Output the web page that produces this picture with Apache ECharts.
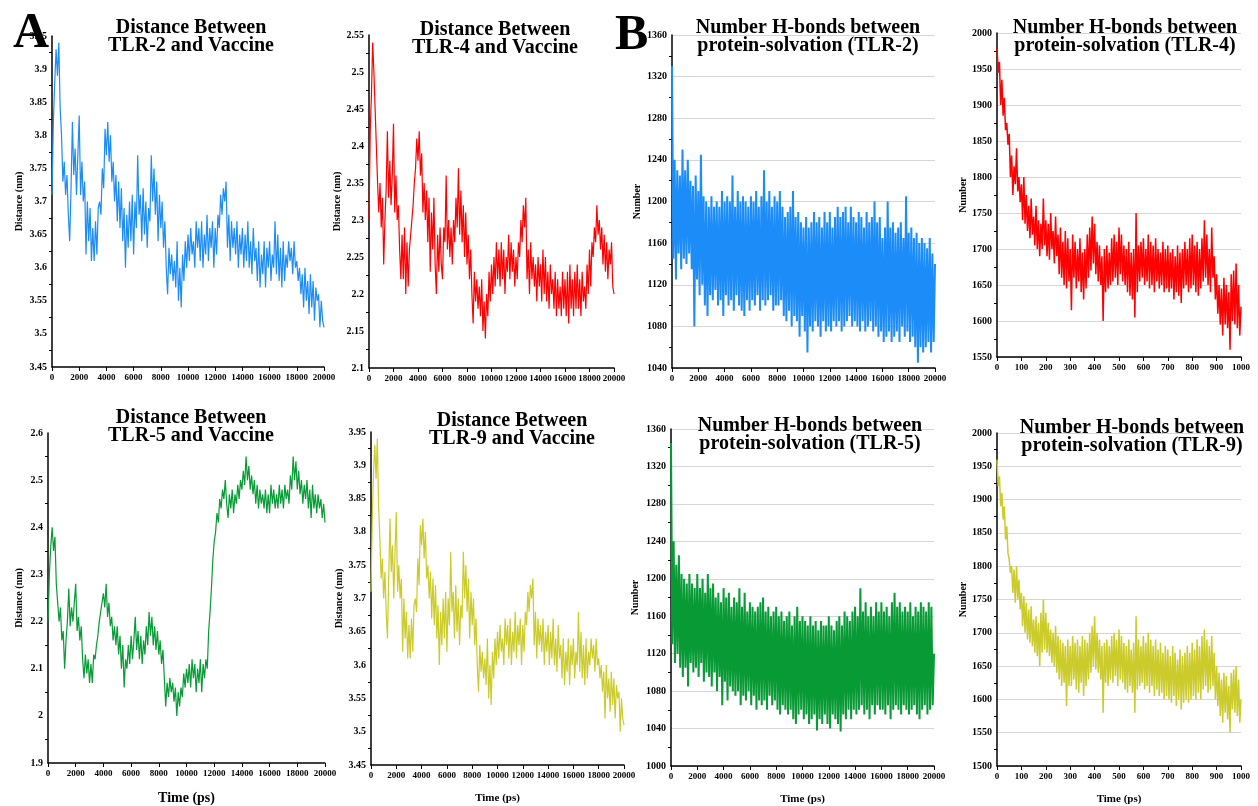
<!DOCTYPE html>
<html>
<head>
<meta charset="utf-8">
<script src="https://cdn.jsdelivr.net/npm/echarts@6/dist/echarts.min.js"></script>
<style>
html,body{margin:0;padding:0;background:#fff}
#main{width:1258px;height:806px}
</style>
</head>
<body>
<div id="main"></div>
<script>
// sampling steps (ps)
var distStep = 100;
var hbLongStep = 100;
var hbShortStep = 5;

// distance between receptor and vaccine (nm), every 100 ps
var tlr2Distance = [
  3.71, 3.82, 3.88, 3.93, 3.89, 3.94, 3.84, 3.80, 3.73, 3.76,
  3.71, 3.74, 3.68, 3.64, 3.72, 3.82, 3.74, 3.78, 3.71, 3.77,
  3.83, 3.71, 3.76, 3.70, 3.73, 3.62, 3.70, 3.64, 3.69, 3.61,
  3.66, 3.61, 3.67, 3.62, 3.69, 3.70, 3.68, 3.75, 3.72, 3.81,
  3.77, 3.82, 3.76, 3.80, 3.73, 3.76, 3.70, 3.74, 3.67, 3.73,
  3.66, 3.72, 3.64, 3.69, 3.60, 3.68, 3.63, 3.70, 3.64, 3.71,
  3.62, 3.70, 3.66, 3.77, 3.68, 3.71, 3.64, 3.72, 3.65, 3.70,
  3.63, 3.69, 3.67, 3.77, 3.70, 3.75, 3.68, 3.73, 3.64, 3.71,
  3.66, 3.70, 3.63, 3.67, 3.60, 3.56, 3.63, 3.59, 3.62, 3.58,
  3.61, 3.57, 3.64, 3.55, 3.60, 3.54, 3.62, 3.58, 3.64, 3.60,
  3.65, 3.61, 3.66, 3.62, 3.64, 3.60, 3.67, 3.63, 3.66, 3.61,
  3.67, 3.60, 3.65, 3.62, 3.68, 3.61, 3.66, 3.63, 3.67, 3.60,
  3.66, 3.62, 3.68, 3.66, 3.71, 3.68, 3.72, 3.70, 3.73, 3.63,
  3.68, 3.61, 3.67, 3.63, 3.66, 3.62, 3.67, 3.60, 3.65, 3.62,
  3.66, 3.60, 3.65, 3.61, 3.67, 3.60, 3.64, 3.59, 3.66, 3.61,
  3.63, 3.58, 3.64, 3.57, 3.62, 3.59, 3.64, 3.57, 3.63, 3.60,
  3.64, 3.58, 3.62, 3.60, 3.67, 3.59, 3.65, 3.58, 3.63, 3.57,
  3.64, 3.58, 3.62, 3.60, 3.64, 3.61, 3.63, 3.59, 3.64, 3.60,
  3.61, 3.58, 3.60, 3.56, 3.59, 3.54, 3.60, 3.55, 3.58, 3.53,
  3.59, 3.54, 3.58, 3.52, 3.57, 3.55, 3.56, 3.51, 3.55, 3.52,
  3.51
];

var tlr4Distance = [
  2.30, 2.42, 2.47, 2.54, 2.50, 2.45, 2.40, 2.35, 2.31, 2.35,
  2.29, 2.33, 2.24, 2.30, 2.34, 2.42, 2.33, 2.38, 2.32, 2.36,
  2.43, 2.31, 2.36, 2.30, 2.32, 2.26, 2.22, 2.28, 2.22, 2.29,
  2.20, 2.27, 2.21, 2.26, 2.28, 2.30, 2.32, 2.35, 2.37, 2.41,
  2.38, 2.42, 2.36, 2.39, 2.31, 2.35, 2.30, 2.34, 2.27, 2.33,
  2.23, 2.31, 2.26, 2.33, 2.24, 2.20, 2.28, 2.23, 2.29, 2.24,
  2.22, 2.29, 2.27, 2.36, 2.26, 2.30, 2.25, 2.29, 2.24, 2.30,
  2.27, 2.33, 2.29, 2.37, 2.28, 2.34, 2.27, 2.32, 2.25, 2.31,
  2.24, 2.28, 2.22, 2.26, 2.20, 2.16, 2.23, 2.19, 2.22, 2.18,
  2.21, 2.17, 2.22, 2.15, 2.19, 2.14, 2.20, 2.17, 2.23, 2.19,
  2.24, 2.20, 2.25, 2.21, 2.27, 2.22, 2.26, 2.21, 2.27, 2.22,
  2.26, 2.20, 2.25, 2.23, 2.28, 2.22, 2.27, 2.23, 2.26, 2.21,
  2.25, 2.22, 2.27, 2.25, 2.30, 2.27, 2.32, 2.29, 2.33, 2.22,
  2.26, 2.20, 2.27, 2.22, 2.25, 2.21, 2.24, 2.19, 2.25, 2.21,
  2.24, 2.19, 2.26, 2.20, 2.25, 2.19, 2.23, 2.18, 2.24, 2.20,
  2.22, 2.18, 2.23, 2.17, 2.22, 2.18, 2.21, 2.17, 2.23, 2.18,
  2.22, 2.17, 2.23, 2.16, 2.24, 2.18, 2.22, 2.17, 2.23, 2.18,
  2.24, 2.18, 2.22, 2.17, 2.23, 2.19, 2.21, 2.18, 2.24, 2.20,
  2.26, 2.21, 2.27, 2.25, 2.29, 2.27, 2.32, 2.28, 2.30, 2.26,
  2.29, 2.24, 2.28, 2.23, 2.27, 2.22, 2.26, 2.24, 2.27, 2.21,
  2.20
];

var tlr5Distance = [
  2.20, 2.30, 2.36, 2.40, 2.35, 2.38, 2.28, 2.24, 2.20, 2.23,
  2.16, 2.18, 2.10, 2.16, 2.20, 2.27, 2.19, 2.23, 2.20, 2.24,
  2.28, 2.18, 2.21, 2.16, 2.19, 2.12, 2.08, 2.13, 2.09, 2.12,
  2.07, 2.11, 2.07, 2.13, 2.12, 2.15, 2.17, 2.20, 2.22, 2.24,
  2.26, 2.23, 2.28, 2.21, 2.24, 2.19, 2.21, 2.16, 2.19, 2.15,
  2.19, 2.13, 2.17, 2.10, 2.15, 2.06, 2.12, 2.10, 2.15, 2.11,
  2.17, 2.12, 2.16, 2.21, 2.14, 2.18, 2.12, 2.17, 2.11, 2.16,
  2.13, 2.19, 2.15, 2.22, 2.17, 2.21, 2.15, 2.19, 2.14, 2.18,
  2.13, 2.16, 2.11, 2.14, 2.08, 2.02, 2.07, 2.04, 2.08, 2.05,
  2.07, 2.03, 2.06, 2.00, 2.05, 2.02, 2.06, 2.04, 2.09, 2.06,
  2.10, 2.07, 2.11, 2.06, 2.12, 2.08, 2.11, 2.05, 2.10, 2.07,
  2.12, 2.05, 2.11, 2.08, 2.12, 2.10, 2.18, 2.22, 2.27, 2.33,
  2.37, 2.39, 2.43, 2.41, 2.46, 2.44, 2.48, 2.46, 2.50, 2.45,
  2.42, 2.47, 2.44, 2.48, 2.43, 2.47, 2.45, 2.49, 2.46, 2.50,
  2.48, 2.52, 2.49, 2.55, 2.50, 2.53, 2.48, 2.51, 2.47, 2.50,
  2.45, 2.49, 2.44, 2.48, 2.45, 2.47, 2.44, 2.48, 2.43, 2.47,
  2.43, 2.49, 2.45, 2.48, 2.44, 2.47, 2.44, 2.49, 2.45, 2.48,
  2.44, 2.49, 2.46, 2.48, 2.45, 2.51, 2.48, 2.55, 2.50, 2.54,
  2.48, 2.52, 2.47, 2.50, 2.45, 2.49, 2.46, 2.50, 2.44, 2.48,
  2.42, 2.49, 2.44, 2.47, 2.43, 2.47, 2.44, 2.46, 2.42, 2.45,
  2.41
];

var tlr9Distance = [
  3.71, 3.82, 3.89, 3.93, 3.88, 3.94, 3.84, 3.79, 3.73, 3.76,
  3.70, 3.74, 3.68, 3.64, 3.73, 3.82, 3.74, 3.78, 3.70, 3.77,
  3.83, 3.71, 3.75, 3.70, 3.73, 3.62, 3.70, 3.64, 3.68, 3.61,
  3.66, 3.61, 3.67, 3.62, 3.69, 3.70, 3.68, 3.76, 3.72, 3.81,
  3.78, 3.82, 3.76, 3.80, 3.73, 3.75, 3.70, 3.74, 3.67, 3.73,
  3.66, 3.72, 3.64, 3.69, 3.60, 3.68, 3.63, 3.70, 3.64, 3.71,
  3.62, 3.70, 3.66, 3.77, 3.68, 3.71, 3.64, 3.72, 3.65, 3.70,
  3.63, 3.69, 3.67, 3.77, 3.70, 3.75, 3.68, 3.73, 3.64, 3.71,
  3.66, 3.70, 3.63, 3.67, 3.60, 3.56, 3.63, 3.59, 3.62, 3.58,
  3.61, 3.57, 3.64, 3.55, 3.60, 3.54, 3.62, 3.58, 3.64, 3.60,
  3.65, 3.61, 3.66, 3.62, 3.64, 3.60, 3.67, 3.63, 3.66, 3.61,
  3.67, 3.60, 3.65, 3.62, 3.68, 3.61, 3.66, 3.63, 3.67, 3.60,
  3.66, 3.62, 3.68, 3.66, 3.71, 3.68, 3.72, 3.70, 3.73, 3.63,
  3.68, 3.61, 3.67, 3.63, 3.66, 3.62, 3.67, 3.60, 3.65, 3.62,
  3.66, 3.60, 3.65, 3.61, 3.67, 3.60, 3.64, 3.59, 3.66, 3.61,
  3.63, 3.58, 3.64, 3.57, 3.62, 3.59, 3.64, 3.57, 3.63, 3.60,
  3.64, 3.58, 3.62, 3.60, 3.68, 3.59, 3.65, 3.58, 3.63, 3.57,
  3.64, 3.58, 3.62, 3.60, 3.64, 3.61, 3.63, 3.59, 3.64, 3.60,
  3.61, 3.58, 3.60, 3.56, 3.59, 3.52, 3.60, 3.55, 3.58, 3.53,
  3.59, 3.54, 3.58, 3.52, 3.57, 3.55, 3.56, 3.50, 3.55, 3.52,
  3.51
];

// number of H-bonds, 0-20000 ps every 100 ps
var tlr2Hbonds = [
  1330, 1145, 1240, 1125, 1230, 1150, 1225, 1135, 1250, 1145,
  1230, 1140, 1240, 1150, 1220, 1135, 1215, 1080, 1225, 1125,
  1210, 1110, 1245, 1120, 1205, 1100, 1200, 1090, 1195, 1110,
  1205, 1105, 1195, 1115, 1200, 1100, 1195, 1105, 1210, 1090,
  1200, 1110, 1205, 1100, 1200, 1105, 1225, 1095, 1195, 1110,
  1210, 1100, 1200, 1095, 1205, 1090, 1200, 1105, 1195, 1095,
  1205, 1105, 1200, 1100, 1210, 1110, 1195, 1095, 1205, 1105,
  1230, 1100, 1200, 1105, 1210, 1110, 1195, 1095, 1205, 1100,
  1200, 1100, 1210, 1105, 1195, 1090, 1185, 1085, 1190, 1095,
  1195, 1080, 1210, 1090, 1185, 1085, 1190, 1070, 1180, 1090,
  1175, 1075, 1185, 1055, 1175, 1080, 1180, 1075, 1190, 1085,
  1180, 1080, 1185, 1070, 1175, 1085, 1190, 1075, 1180, 1080,
  1190, 1075, 1175, 1085, 1185, 1080, 1195, 1085, 1185, 1075,
  1190, 1080, 1195, 1085, 1180, 1090, 1195, 1080, 1185, 1085,
  1180, 1080, 1190, 1075, 1185, 1085, 1175, 1075, 1190, 1080,
  1180, 1085, 1185, 1075, 1200, 1080, 1180, 1070, 1185, 1075,
  1165, 1065, 1175, 1070, 1200, 1075, 1175, 1065, 1180, 1070,
  1170, 1075, 1175, 1065, 1180, 1080, 1165, 1070, 1205, 1075,
  1170, 1065, 1175, 1070, 1165, 1060, 1170, 1045, 1160, 1060,
  1165, 1055, 1160, 1060, 1155, 1065, 1165, 1055, 1150, 1065,
  1140
];

var tlr5Hbonds = [
  1345, 1130, 1240, 1110, 1215, 1120, 1225, 1105, 1205, 1095,
  1200, 1105, 1195, 1085, 1205, 1110, 1195, 1100, 1190, 1105,
  1205, 1095, 1190, 1110, 1200, 1090, 1185, 1100, 1205, 1095,
  1190, 1085, 1195, 1100, 1180, 1080, 1185, 1095, 1175, 1065,
  1190, 1090, 1180, 1070, 1185, 1085, 1170, 1080, 1180, 1075,
  1175, 1080, 1190, 1065, 1170, 1075, 1185, 1070, 1165, 1080,
  1175, 1065, 1170, 1075, 1165, 1060, 1170, 1070, 1175, 1065,
  1180, 1070, 1165, 1060, 1170, 1075, 1160, 1065, 1165, 1070,
  1170, 1060, 1160, 1055, 1165, 1065, 1155, 1060, 1160, 1055,
  1165, 1060, 1150, 1050, 1160, 1045, 1170, 1055, 1155, 1060,
  1160, 1050, 1155, 1055, 1150, 1045, 1160, 1050, 1150, 1055,
  1155, 1038, 1145, 1050, 1155, 1045, 1150, 1055, 1150, 1045,
  1160, 1040, 1150, 1055, 1145, 1050, 1155, 1045, 1160, 1037,
  1150, 1055, 1165, 1050, 1160, 1060, 1155, 1050, 1165, 1060,
  1170, 1055, 1160, 1060, 1190, 1065, 1165, 1055, 1175, 1060,
  1160, 1050, 1170, 1065, 1160, 1055, 1175, 1065, 1165, 1060,
  1175, 1060, 1165, 1055, 1170, 1065, 1160, 1050, 1175, 1060,
  1185, 1065, 1170, 1060, 1175, 1055, 1165, 1065, 1170, 1060,
  1165, 1055, 1175, 1060, 1160, 1065, 1170, 1055, 1165, 1050,
  1175, 1060, 1170, 1065, 1165, 1055, 1175, 1060, 1170, 1065,
  1120
];

// number of H-bonds, 0-1000 ps every 5 ps
var tlr4Hbonds = [
  1980, 1945, 1960, 1900, 1935, 1885, 1910, 1865, 1875, 1845, 1860, 1800, 1830, 1775, 1815, 1790, 1840, 1780, 1800, 1765,
  1790, 1740, 1800, 1735, 1775, 1725, 1760, 1715, 1770, 1720, 1745, 1705, 1760, 1700, 1740, 1690, 1735, 1700, 1770, 1705,
  1740, 1690, 1735, 1685, 1750, 1700, 1725, 1680, 1745, 1690, 1720, 1665, 1730, 1660, 1710, 1650, 1725, 1645, 1715, 1655,
  1700, 1615, 1720, 1660, 1710, 1645, 1700, 1655, 1715, 1640, 1695, 1630, 1700, 1645, 1720, 1660, 1730, 1670, 1745, 1680,
  1735, 1665, 1710, 1655, 1705, 1650, 1690, 1600, 1700, 1640, 1705, 1645, 1695, 1650, 1715, 1655, 1720, 1660, 1710, 1650,
  1730, 1665, 1720, 1655, 1705, 1650, 1700, 1640, 1710, 1635, 1695, 1630, 1700, 1605, 1750, 1640, 1705, 1655, 1710, 1660,
  1715, 1650, 1700, 1655, 1720, 1645, 1710, 1650, 1705, 1640, 1715, 1655, 1700, 1645, 1695, 1650, 1710, 1640, 1700, 1645,
  1705, 1640, 1695, 1645, 1700, 1630, 1690, 1640, 1705, 1635, 1695, 1625, 1700, 1645, 1710, 1650, 1700, 1640, 1715, 1645,
  1720, 1650, 1705, 1640, 1710, 1635, 1700, 1645, 1715, 1655, 1740, 1660, 1720, 1650, 1700, 1640, 1730, 1660, 1690, 1630,
  1665, 1610, 1650, 1595, 1645, 1580, 1660, 1595, 1650, 1590, 1640, 1560, 1665, 1600, 1670, 1595, 1680, 1590, 1650, 1580,
  1620
];

var tlr9Hbonds = [
  1960, 1920, 1935, 1890, 1910, 1870, 1890, 1840, 1860, 1820, 1810, 1790, 1800, 1760, 1795, 1745, 1800, 1750, 1780, 1735,
  1760, 1710, 1755, 1700, 1745, 1690, 1735, 1685, 1740, 1680, 1720, 1670, 1725, 1665, 1715, 1650, 1730, 1670, 1750, 1675,
  1730, 1670, 1715, 1665, 1705, 1655, 1700, 1650, 1710, 1640, 1695, 1630, 1690, 1620, 1685, 1625, 1680, 1590, 1690, 1620,
  1680, 1620, 1695, 1630, 1685, 1615, 1690, 1610, 1680, 1625, 1695, 1605, 1690, 1620, 1685, 1630, 1700, 1640, 1710, 1650,
  1725, 1645, 1700, 1640, 1690, 1630, 1680, 1580, 1685, 1625, 1690, 1620, 1680, 1630, 1695, 1625, 1700, 1635, 1690, 1620,
  1705, 1630, 1695, 1625, 1685, 1615, 1680, 1610, 1690, 1620, 1675, 1610, 1685, 1580, 1725, 1615, 1690, 1620, 1680, 1625,
  1695, 1615, 1685, 1620, 1700, 1610, 1690, 1620, 1680, 1605, 1690, 1615, 1675, 1605, 1685, 1610, 1670, 1600, 1680, 1605,
  1675, 1600, 1665, 1595, 1680, 1605, 1670, 1590, 1660, 1600, 1675, 1585, 1665, 1595, 1670, 1600, 1680, 1595, 1670, 1600,
  1685, 1605, 1675, 1600, 1690, 1610, 1680, 1600, 1695, 1615, 1705, 1620, 1690, 1610, 1680, 1615, 1695, 1620, 1670, 1600,
  1650, 1590, 1640, 1575, 1630, 1565, 1640, 1580, 1635, 1570, 1620, 1550, 1640, 1585, 1645, 1580, 1650, 1575, 1630, 1565,
  1600
];

var panelTitles = [
  'Distance Between\nTLR-2 and Vaccine',
  'Distance Between\nTLR-4 and Vaccine',
  'Number H-bonds between\nprotein-solvation (TLR-2)',
  'Number H-bonds between\nprotein-solvation (TLR-4)',
  'Distance Between\nTLR-5 and Vaccine',
  'Distance Between\nTLR-9 and Vaccine',
  'Number H-bonds between\nprotein-solvation (TLR-5)',
  'Number H-bonds between\nprotein-solvation (TLR-9)'
];

var toPairs = function (arr, step) {
  return arr.map(function (v, i) { return [i * step, v]; });
};

// plain numbers, no thousands separator
var plain = function (v) {
  return String(parseFloat(v.toFixed(3)));
};

var serif = '"Liberation Serif", "Times New Roman", serif';

// layout of the 8 small plots
var panels = [
  {grid: [52, 36, 272, 331], title: [186, 14], xmax: 20000, xint: 2000, ymin: 3.45, ymax: 3.95, yint: 0.05,
   yname: 'Distance (nm)', gap: 28, color: '#1c8cf8', data: toPairs(tlr2Distance, distStep), hb: false, xname: ''},
  {grid: [369, 35, 245, 333], title: [490, 16], xmax: 20000, xint: 2000, ymin: 2.1, ymax: 2.55, yint: 0.05,
   yname: 'Distance (nm)', gap: 26, color: '#ff0000', data: toPairs(tlr4Distance, distStep), hb: false, xname: ''},
  {grid: [672, 35, 263, 333], title: [803, 14], xmax: 20000, xint: 2000, ymin: 1040, ymax: 1360, yint: 40,
   yname: 'Number', gap: 30, color: '#1c8cf8', data: toPairs(tlr2Hbonds, hbLongStep), hb: true, xname: ''},
  {grid: [997, 33, 244, 324], title: [1120, 14], xmax: 1000, xint: 100, ymin: 1550, ymax: 2000, yint: 50,
   yname: 'Number', gap: 28, color: '#ff0000', data: toPairs(tlr4Hbonds, hbShortStep), hb: true, xname: ''},
  {grid: [48, 433, 277, 334], title: [186, 404], xmax: 20000, xint: 2000, ymin: 1.9, ymax: 2.6, yint: 0.1,
   yname: 'Distance (nm)', gap: 24, color: '#079a35', data: toPairs(tlr5Distance, distStep), hb: false, xname: 'Time (ps)', xnameSize: 14},
  {grid: [371, 432, 253, 333], title: [507, 407], xmax: 20000, xint: 2000, ymin: 3.45, ymax: 3.95, yint: 0.05,
   yname: 'Distance (nm)', gap: 26, color: '#cbcb2c', data: toPairs(tlr9Distance, distStep), hb: false, xname: 'Time (ps)', xnameSize: 11},
  {grid: [671, 429, 263, 337], title: [805, 412], xmax: 20000, xint: 2000, ymin: 1000, ymax: 1360, yint: 40,
   yname: 'Number', gap: 31, color: '#079a35', data: toPairs(tlr5Hbonds, hbLongStep), hb: true, xname: 'Time (ps)', xnameSize: 11},
  {grid: [997, 433, 244, 334], title: [1127, 414], xmax: 1000, xint: 100, ymin: 1500, ymax: 2000, yint: 50,
   yname: 'Number', gap: 28, color: '#cbcb2c', data: toPairs(tlr9Hbonds, hbShortStep), hb: true, xname: 'Time (ps)', xnameSize: 11}
];

var labelStyle = {fontFamily: serif, fontWeight: 'bold', fontSize: 10, color: '#000', formatter: plain,
  showMinLabel: true, showMaxLabel: true, hideOverlap: false};

var option = {
  animation: false,
  backgroundColor: '#fff',
  title: [],
  grid: [],
  xAxis: [],
  yAxis: [],
  series: []
};

panels.forEach(function (p, i) {
  var lineWidth = 1.2;
  if (p.hb) lineWidth = p.xmax > 1000 ? 2 : 1.5;
  option.title.push({
    text: panelTitles[i],
    left: p.title[0],
    top: p.title[1],
    textAlign: 'center',
    textStyle: {fontFamily: serif, fontWeight: 'bold', fontSize: 20, lineHeight: 18, color: '#000'}
  });
  option.grid.push({left: p.grid[0], top: p.grid[1], width: p.grid[2], height: p.grid[3], containLabel: false});
  option.xAxis.push({
    type: 'value', gridIndex: i, min: 0, max: p.xmax, interval: p.xint,
    name: p.xname, nameLocation: 'middle', nameGap: 28,
    nameTextStyle: {fontFamily: serif, fontWeight: 'bold', fontSize: p.xnameSize || 11, color: '#000'},
    axisLine: {onZero: false, lineStyle: {color: '#000', width: 1.5}},
    axisTick: {show: true, length: 4, lineStyle: {color: '#000'}},
    axisLabel: Object.assign({}, labelStyle, {margin: 6, fontSize: 9}),
    splitLine: {show: false}
  });
  option.yAxis.push({
    type: 'value', gridIndex: i, min: p.ymin, max: p.ymax, interval: p.yint,
    name: p.yname, nameLocation: 'middle', nameGap: p.gap, nameRotate: 90,
    nameTextStyle: {fontFamily: serif, fontWeight: 'bold', fontSize: 10, color: '#000'},
    axisLine: {show: true, onZero: false, lineStyle: {color: '#000', width: 1.5}},
    axisTick: {show: false},
    minorTick: {show: true, splitNumber: 2, length: 3, lineStyle: {color: '#000', width: 1}},
    axisLabel: Object.assign({}, labelStyle, {margin: 5}),
    splitLine: {show: p.hb, lineStyle: {color: '#d6d6d6', width: 1}}
  });
  option.series.push({
    type: 'line', xAxisIndex: i, yAxisIndex: i,
    data: p.data, showSymbol: false, symbol: 'none',
    lineStyle: {color: p.color, width: lineWidth}
  });
});

// panel letters
option.title.push({
  text: 'A', left: 8, top: 4,
  textStyle: {fontFamily: serif, fontWeight: 'bold', fontSize: 50, color: '#000'}
});
option.title.push({
  text: 'B', left: 610, top: 6,
  textStyle: {fontFamily: serif, fontWeight: 'bold', fontSize: 50, color: '#000'}
});

var myChart = echarts.init(document.getElementById('main'));
myChart.setOption(option);
</script>
</body>
</html>
